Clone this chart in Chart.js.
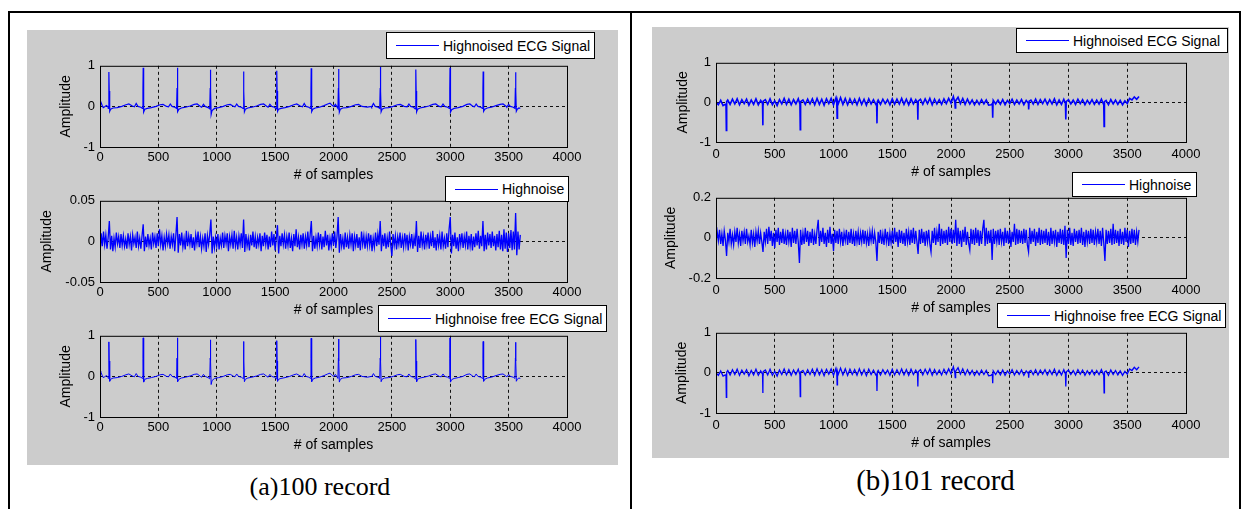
<!DOCTYPE html>
<html>
<head>
<meta charset="utf-8">
<script src="https://cdn.jsdelivr.net/npm/chart.js@4/dist/chart.umd.min.js"></script>
<style>
  body { margin: 0; width: 1244px; height: 509px; position: relative; overflow: hidden; background: #fff; font-family: "Liberation Sans", Arial, sans-serif; }
  .rule { position: absolute; background: #000; }
  .panel { position: absolute; background: #cccccc; }
  canvas { position: absolute; }
  .legend { position: absolute; box-sizing: border-box; background: #fff; border: 1px solid #000; display: flex; align-items: center; font-size: 14px; color: #000; white-space: nowrap; z-index: 2; }
  .legend i { display: inline-block; width: 43px; height: 1px; margin: 0 4px 0 9px; }
  .caption { position: absolute; font-family: "Liberation Serif", "Times New Roman", serif; color: #000; white-space: nowrap; }
</style>
</head>
<body>
<div class="rule" style="left:8px;top:11px;width:1233px;height:2px"></div>
<div class="rule" style="left:8px;top:11px;width:2px;height:498px"></div>
<div class="rule" style="left:630px;top:11px;width:2px;height:498px"></div>
<div class="rule" style="left:1239px;top:11px;width:2px;height:498px"></div>
<div class="panel" style="left:27px;top:30px;width:591px;height:435px"></div>
<div class="panel" style="left:652px;top:27px;width:577px;height:431px"></div>
<div class="caption" style="left:0;width:640px;text-align:center;top:474px;font-size:26px;line-height:26px">(a)100 record</div>
<div class="caption" style="left:632px;width:607px;text-align:center;top:466px;font-size:29px;line-height:29px">(b)101 record</div>
<script>
// axis ticks
const xTickValues = [0, 500, 1000, 1500, 2000, 2500, 3000, 3500, 4000];
const xTickLabels = ['0', '500', '1000', '1500', '2000', '2500', '3000', '3500', '4000'];
const ecgTickValues = [-1, 0, 1];
const ecgTickLabels = ['-1', '0', '1'];
const noise100TickValues = [-0.05, 0, 0.05];
const noise100TickLabels = ['-0.05', '0', '0.05'];
const noise101TickValues = [-0.2, 0, 0.2];
const noise101TickLabels = ['-0.2', '0', '0.2'];

// samples between successive values of the noise and ripple arrays
const noiseStep = 10;
const rippleStep = 20;

// record 100 ECG, [sample, amplitude]
const ecg100 = [
  [0, 0.12], [8, 0.1], [18, 0.03], [28, -0.03], [40, -0.01], [55, 0.02], [68, -0.01], [71, -0.05], [75, 0.45], [77, 0.85], [79, 0.38], [83, -0.12], [91, -0.07], [112, -0.04], [147, -0.03], [187, 0.0], [222, 0.04], [247, 0.06], [277, 0.01],
  [295, -0.01], [310, 0.07], [325, 0.0], [350, -0.02], [364, -0.05], [368, 0.45], [370, 0.95], [372, 0.38], [376, -0.14], [384, -0.07], [405, -0.05], [440, -0.03], [480, 0.0], [515, 0.04], [540, 0.05], [570, 0.0],
  [587, -0.01], [602, 0.06], [617, 0.0], [642, -0.02], [656, -0.05], [660, 0.45], [662, 0.95], [664, 0.38], [668, -0.13], [676, -0.07], [697, -0.04], [732, -0.02], [772, 0.01], [807, 0.05], [832, 0.06], [860, 0.0],
  [871, -0.02], [886, 0.05], [901, 0.0], [926, -0.03], [940, -0.06], [944, 0.45], [946, 0.9], [948, 0.38], [952, -0.2], [960, -0.1], [981, -0.05], [1016, -0.03], [1056, 0.0], [1091, 0.04], [1116, 0.05], [1145, 0.0],
  [1156, -0.01], [1171, 0.06], [1186, 0.0], [1211, -0.02], [1225, -0.05], [1229, 0.45], [1231, 0.86], [1233, 0.38], [1237, -0.13], [1245, -0.07], [1266, -0.04], [1301, -0.02], [1341, 0.01], [1376, 0.05], [1401, 0.06], [1430, 0.0],
  [1440, -0.02], [1455, 0.05], [1470, 0.0], [1495, -0.02], [1509, -0.06], [1513, 0.45], [1515, 0.88], [1517, 0.38], [1521, -0.12], [1529, -0.07], [1550, -0.05], [1585, -0.03], [1625, 0.0], [1660, 0.04], [1685, 0.06], [1715, 0.01],
  [1734, -0.01], [1749, 0.07], [1764, 0.0], [1789, -0.02], [1803, -0.05], [1807, 0.45], [1809, 0.94], [1811, 0.38], [1815, -0.13], [1823, -0.07], [1844, -0.04], [1879, -0.02], [1919, 0.02], [1950, 0.06], [1970, 0.08], [1990, 0.02],
  [2005, 0.0], [2016, 0.05], [2028, 0.0], [2038, -0.05], [2042, 0.45], [2044, 0.92], [2046, 0.38], [2050, -0.14], [2058, -0.07], [2079, -0.04], [2114, -0.03], [2154, 0.0], [2189, 0.04], [2214, 0.05], [2244, 0.0], [2290, -0.02], [2325, 0.0],
  [2327, -0.01], [2342, 0.07], [2357, 0.0], [2382, -0.02], [2396, -0.05], [2400, 0.45], [2402, 0.97], [2404, 0.38], [2408, -0.13], [2416, -0.07], [2437, -0.04], [2472, -0.03], [2512, 0.0], [2547, 0.04], [2572, 0.05], [2605, 0.0],
  [2631, -0.01], [2646, 0.06], [2661, 0.0], [2686, -0.02], [2700, -0.06], [2704, 0.45], [2706, 0.91], [2708, 0.38], [2712, -0.13], [2720, -0.07], [2741, -0.04], [2776, -0.02], [2816, 0.01], [2851, 0.05], [2876, 0.06], [2905, 0.0],
  [2923, -0.01], [2938, 0.06], [2953, 0.0], [2978, -0.02], [2992, -0.05], [2996, 0.45], [2998, 0.95], [3000, 0.38], [3004, -0.14], [3012, -0.08], [3033, -0.05], [3068, -0.03], [3108, 0.0], [3143, 0.05], [3168, 0.06], [3195, 0.0],
  [3207, -0.01], [3222, 0.06], [3237, 0.0], [3262, -0.02], [3276, -0.05], [3280, 0.45], [3282, 0.86], [3284, 0.38], [3288, -0.12], [3296, -0.07], [3317, -0.04], [3352, -0.02], [3392, 0.02], [3427, 0.05], [3452, 0.06], [3480, 0.0],
  [3485, -0.01], [3500, 0.05], [3515, 0.0], [3540, -0.02], [3554, -0.05], [3558, 0.45], [3560, 0.84], [3562, 0.38], [3566, -0.12], [3574, -0.07], [3588, -0.04], [3600, -0.05]
];

// record 100 high noise, one value per noiseStep samples
const noise100 = [
  -0.018, 0.01, -0.006, 0.012, -0.004, 0.008, -0.009, 0.005, 0.025, -0.01, 0.007, -0.012, 0.004, -0.007, 0.011, -0.003, 0.006, -0.008, 0.009, -0.005,
  0.007, -0.006, 0.003, -0.009, 0.01, -0.004, 0.006, -0.011, 0.008, -0.003, 0.005, -0.008, 0.012, -0.006, 0.004, -0.009, 0.007, 0.021, -0.012, 0.006,
  -0.007, 0.009, -0.005, 0.004, -0.01, 0.011, -0.003, 0.006, -0.008, 0.01, -0.006, 0.015, -0.004, 0.007, -0.011, 0.005, -0.006, 0.009, -0.003, 0.008,
  -0.009, 0.006, -0.004, 0.01, -0.012, 0.008, 0.03, -0.014, 0.009, -0.005, 0.011, -0.007, 0.004, -0.01, 0.013, -0.006, 0.007, -0.004, 0.009, -0.008,
  0.005, -0.011, 0.008, -0.003, 0.012, -0.007, 0.006, -0.009, 0.004, -0.006, 0.01, -0.013, 0.007, -0.004, 0.009, 0.027, -0.015, 0.006, -0.008, 0.005,
  -0.006, 0.009, -0.01, 0.004, -0.005, 0.011, -0.008, 0.007, -0.003, 0.01, -0.012, 0.006, -0.004, 0.008, -0.009, 0.013, -0.006, 0.005, -0.01, 0.007,
  -0.004, 0.01, -0.008, 0.027, -0.013, 0.009, -0.006, 0.004, -0.011, 0.008, -0.005, 0.012, -0.007, 0.006, -0.009, 0.005, -0.004, 0.01, -0.012, 0.007,
  -0.006, 0.011, -0.004, 0.008, -0.01, 0.006, -0.007, 0.012, -0.005, 0.009, -0.011, 0.004, 0.02, -0.015, 0.007, -0.006, 0.01, -0.004, 0.008, -0.009,
  0.006, -0.005, 0.011, -0.008, 0.004, -0.012, 0.009, -0.006, 0.015, -0.007, 0.005, -0.01, 0.008, -0.004, 0.01, -0.009, 0.006, -0.005, 0.012, -0.007,
  0.008, 0.025, -0.012, 0.007, -0.009, 0.005, -0.006, 0.011, -0.004, 0.009, -0.01, 0.006, -0.007, 0.013, -0.005, 0.008, -0.011, 0.004, -0.006, 0.01,
  -0.005, 0.012, -0.008, 0.006, 0.03, -0.014, 0.009, -0.006, 0.004, -0.01, 0.011, -0.007, 0.005, -0.009, 0.008, -0.004, 0.01, -0.012, 0.006, -0.005,
  0.009, -0.008, 0.005, -0.011, 0.012, -0.004, 0.007, -0.009, 0.006, -0.006, 0.01, -0.005, 0.008, -0.012, 0.004, -0.007, 0.011, -0.006, 0.009, -0.004,
  0.025, -0.012, 0.008, -0.006, 0.01, -0.009, 0.005, -0.007, 0.012, -0.004, -0.018, 0.009, -0.005, 0.007, -0.01, 0.006, -0.004, 0.011, -0.008, 0.005,
  -0.007, 0.01, -0.005, 0.008, -0.011, 0.006, -0.004, 0.009, -0.009, 0.005, -0.006, 0.025, -0.013, 0.007, -0.008, 0.012, -0.005, 0.006, -0.01, 0.008,
  -0.004, 0.011, -0.009, 0.006, -0.006, 0.013, -0.008, 0.005, -0.011, 0.009, -0.005, 0.007, -0.01, 0.012, -0.006, 0.004, -0.009, 0.01, -0.007, 0.015,
  0.03, -0.015, 0.008, -0.006, 0.011, -0.009, 0.005, -0.012, 0.009, -0.004, 0.01, -0.008, 0.006, -0.005, 0.012, -0.01, 0.007, -0.006, 0.009, -0.011,
  0.006, -0.007, 0.01, -0.005, 0.013, -0.009, 0.007, -0.006, 0.025, -0.012, 0.008, -0.01, 0.011, -0.005, 0.009, -0.008, 0.012, -0.006, 0.007, -0.011,
  0.009, -0.007, 0.013, -0.01, 0.008, -0.012, 0.015, -0.009, 0.011, -0.013, 0.01, -0.008, 0.014, -0.011, 0.012, -0.01, 0.035, -0.017, 0.012, -0.01,
  0.008
];

// record 101 ECG baseline ripple, one value per rippleStep samples
const ecg101Ripple = [
  0.0, -0.06, 0.05, -0.08, -0.05, 0.06, -0.05, 0.08, -0.04, 0.09, -0.06, 0.07, -0.03, 0.08, -0.07, 0.06, -0.05, 0.09, -0.06, 0.05,
  -0.05, 0.07, -0.05, 0.09, -0.06, 0.04, -0.08, 0.07, -0.04, 0.1, -0.05, 0.08, -0.06, 0.07, -0.04, 0.09, -0.06, 0.06, -0.05, 0.08,
  -0.04, 0.09, -0.06, 0.1, -0.05, 0.08, -0.07, 0.09, -0.03, 0.1, -0.06, 0.11, -0.04, 0.12, -0.05, 0.1, -0.06, 0.09, -0.04, 0.08,
  -0.06, 0.1, -0.05, 0.08, -0.07, 0.09, -0.04, 0.07, -0.05, 0.06, -0.05, 0.08, -0.03, 0.07, -0.06, 0.09, -0.05, 0.08, -0.04, 0.1,
  -0.05, 0.08, -0.06, 0.09, -0.04, 0.07, -0.05, 0.08, -0.05, 0.09, -0.03, 0.1, -0.06, 0.08, -0.04, 0.07, -0.05, 0.09, -0.03, 0.1,
  -0.02, 0.15, 0.04, 0.13, -0.03, 0.1, -0.05, 0.08, -0.04, 0.06, -0.06, 0.05, -0.05, 0.07, -0.04, 0.06, -0.07, -0.06, 0.05, -0.04,
  0.06, -0.05, 0.07, -0.06, 0.05, -0.03, 0.08, -0.05, 0.06, -0.04, 0.07, -0.06, 0.05, -0.08, 0.06, -0.04, 0.08, -0.05, 0.07, -0.03,
  0.08, -0.05, 0.07, -0.04, 0.09, -0.06, 0.06, -0.05, 0.08, -0.05, 0.07, -0.04, 0.06, -0.05, 0.08, -0.03, 0.07, -0.06, 0.05, -0.04,
  0.07, -0.05, 0.06, -0.04, 0.08, -0.06, 0.05, -0.06, 0.07, -0.04, 0.06, -0.05, 0.05, -0.06, 0.04, -0.03, 0.1, 0.06, 0.14, 0.08,
  0.15
];

// record 101 beats (downward), [sample, amplitude]
const ecg101NoisedBeats = [
  [85, -0.04], [88, -0.71], [91, 0.02], [396, -0.03], [399, -0.58], [402, 0.03], [714, -0.04], [717, -0.69], [720, 0.02],
  [1028, -0.02], [1031, -0.4], [1034, 0.03], [1367, -0.03], [1370, -0.53], [1373, 0.02], [1715, -0.02], [1718, -0.44], [1721, 0.03],
  [2033, 0.0], [2036, -0.14], [2039, 0.05], [2352, -0.03], [2355, -0.39], [2358, 0.02], [2659, -0.02], [2662, -0.18], [2665, 0.03],
  [2974, -0.03], [2977, -0.43], [2980, 0.02], [3300, -0.04], [3303, -0.61], [3306, 0.02]
];
const ecg101CleanBeats = [
  [85, -0.04], [88, -0.61], [91, 0.02], [396, -0.03], [399, -0.5], [402, 0.03], [714, -0.04], [717, -0.59], [720, 0.02],
  [1028, -0.02], [1031, -0.3], [1034, 0.03], [1367, -0.03], [1370, -0.45], [1373, 0.02], [1715, -0.02], [1718, -0.34], [1721, 0.03],
  [2033, 0.0], [2036, -0.12], [2039, 0.05], [2352, -0.03], [2355, -0.26], [2358, 0.02], [2659, -0.02], [2662, -0.12], [2665, 0.03],
  [2974, -0.03], [2977, -0.34], [2980, 0.02], [3300, -0.04], [3303, -0.5], [3306, 0.02]
];

// record 101 high noise, one value per noiseStep samples
const noise101 = [
  -0.02, 0.03, -0.015, 0.04, -0.03, 0.02, -0.04, 0.035, -0.01, -0.09, 0.025, -0.02, 0.045, -0.03, 0.015, -0.035, 0.03, -0.02, 0.05, -0.025,
  0.02, -0.04, 0.035, -0.015, 0.03, -0.03, 0.045, -0.02, 0.01, -0.035, 0.04, -0.025, 0.02, -0.045, 0.03, -0.015, 0.035, -0.03, 0.025, -0.02,
  -0.07, 0.03, -0.02, 0.045, -0.03, 0.055, -0.015, 0.035, -0.04, 0.025, -0.05, 0.04, -0.02, 0.05, -0.035, 0.03, -0.025, 0.045, -0.03, 0.02,
  -0.035, 0.04, -0.02, 0.03, -0.045, 0.05, -0.025, 0.035, -0.03, 0.045, -0.02, -0.125, 0.04, -0.035, 0.025, -0.03, 0.05, -0.02, 0.035, -0.04,
  0.03, -0.025, 0.045, -0.035, 0.02, -0.03, 0.04, 0.09, -0.04, 0.035, -0.02, 0.05, -0.03, 0.025, -0.045, 0.04, -0.025, 0.055, -0.03, 0.02,
  -0.065, 0.04, -0.025, 0.035, -0.03, 0.045, -0.02, 0.03, -0.04, 0.025, -0.015, 0.04, -0.035, 0.03, -0.025, 0.045, -0.03, 0.02, -0.04, 0.035,
  -0.02, 0.03, -0.035, 0.025, -0.02, 0.04, -0.03, 0.035, -0.025, 0.02, -0.04, 0.03, -0.015, 0.035, -0.03, 0.025, -0.02, -0.115, 0.03, -0.025,
  0.04, -0.03, 0.02, -0.035, 0.045, -0.02, 0.03, -0.04, 0.025, -0.025, 0.035, -0.03, 0.05, -0.02, 0.03, -0.045, 0.04, -0.025, 0.035, -0.03,
  0.025, -0.04, 0.045, -0.02, 0.03, -0.035, 0.04, -0.025, 0.05, -0.03, 0.035, -0.02, -0.08, 0.04, -0.03, 0.045, -0.025, 0.03, -0.04, 0.035,
  -0.02, 0.04, -0.03, -0.07, 0.035, -0.025, 0.05, -0.035, 0.03, -0.02, 0.07, -0.04, 0.045, -0.03, 0.035, -0.025, 0.04, -0.035, 0.055, -0.02,
  0.045, -0.03, 0.04, -0.025, 0.09, -0.04, 0.05, -0.03, 0.035, -0.045, 0.04, -0.02, 0.055, -0.035, 0.03, -0.025, -0.06, 0.045, -0.03, 0.04,
  -0.035, 0.05, -0.025, 0.04, -0.04, 0.035, -0.03, 0.045, 0.09, -0.04, 0.05, -0.03, 0.035, -0.025, 0.04, -0.11, 0.045, -0.03, 0.035, -0.02,
  0.04, -0.035, 0.045, -0.02, 0.03, -0.04, 0.05, -0.025, 0.035, -0.03, 0.04, -0.045, 0.03, -0.02, 0.07, -0.035, 0.045, -0.03, 0.04, -0.025,
  0.035, -0.03, 0.045, -0.025, 0.04, -0.035, -0.07, 0.05, -0.03, 0.035, -0.02, 0.045, -0.04, 0.03, -0.025, 0.05, -0.035, 0.04, -0.03, 0.035,
  -0.025, 0.045, -0.035, 0.03, -0.04, 0.05, -0.03, 0.035, -0.02, 0.04, -0.045, 0.03, -0.025, 0.045, -0.03, 0.04, -0.035, 0.06, -0.1, 0.04,
  -0.03, 0.05, -0.035, 0.025, -0.04, 0.045, -0.02, 0.035, -0.03, 0.04, -0.025, 0.05, -0.035, 0.03, -0.045, 0.04, -0.02, 0.035, -0.03, 0.045,
  -0.025, 0.04, -0.035, 0.03, -0.02, 0.045, -0.03, 0.035, -0.04, 0.05, -0.025, -0.115, 0.04, -0.03, 0.035, -0.025, 0.045, -0.035, 0.07, -0.03,
  0.04, -0.025, 0.035, -0.04, 0.045, -0.03, 0.03, -0.035, 0.05, -0.02, 0.04, -0.045, 0.035, -0.03, 0.045, -0.025, 0.04, -0.035, 0.03, -0.02,
  0.04
];

const blue = '#0000ff';
const tickFont = { family: '"Liberation Sans", Arial, sans-serif', size: 13 };
const titleFont = { family: '"Liberation Sans", Arial, sans-serif', size: 14 };

function pairsToPoints(pairs) {
  return pairs.map(p => ({ x: p[0], y: p[1] }));
}
function stepToPoints(values, step) {
  return values.map((v, i) => ({ x: i * step, y: v }));
}
function withBeats(values, step, beats) {
  return stepToPoints(values, step).concat(pairsToPoints(beats)).sort((a, b) => a.x - b.x);
}

// solid box round the plot area, like matlab's "box on"
const axesBox = {
  id: 'axesBox',
  afterDraw(chart) {
    const { ctx, chartArea: a } = chart;
    ctx.save();
    ctx.strokeStyle = '#000';
    ctx.lineWidth = 1;
    ctx.strokeRect(a.left + 0.5, a.top + 0.5, a.right - a.left, a.bottom - a.top);
    ctx.restore();
  }
};

function makePlot(p) {
  const canvas = document.createElement('canvas');
  canvas.width = p.yw + p.pw + 20;
  canvas.height = 12 + p.ph + p.xh;
  canvas.style.left = (p.px - p.yw) + 'px';
  canvas.style.top = (p.py - 12) + 'px';
  document.body.appendChild(canvas);

  const inner = (c, lo, hi) => (c.tick && c.tick.value > lo && c.tick.value < hi) ? '#111' : 'rgba(0,0,0,0)';

  const chart = new Chart(canvas.getContext('2d'), {
    type: 'line',
    data: {
      datasets: [{
        label: p.label,
        data: p.data,
        borderColor: blue,
        borderWidth: p.lw || 1,
        pointRadius: 0,
        tension: 0,
        fill: false
      }]
    },
    options: {
      responsive: false,
      animation: false,
      events: [],
      layout: { padding: { top: 12, right: 20, left: 0, bottom: 0 } },
      plugins: { legend: { display: false }, tooltip: { enabled: false } },
      scales: {
        x: {
          type: 'linear',
          min: 0,
          max: 4000,
          afterBuildTicks: s => { s.ticks = xTickValues.map(v => ({ value: v })); },
          afterFit: s => { s.height = p.xh; },
          ticks: { color: '#000', font: tickFont, padding: p.xpad, maxRotation: 0, autoSkip: false, callback: (v, i) => xTickLabels[i] },
          grid: { color: c => inner(c, 0, 4000), drawTicks: false },
          border: { display: false, dash: [3, 3] },
          title: { display: true, text: '# of samples', color: '#000', font: titleFont, padding: 0 }
        },
        y: {
          min: p.yTicks[0],
          max: p.yTicks[p.yTicks.length - 1],
          afterBuildTicks: s => { s.ticks = p.yTicks.map(v => ({ value: v })); },
          afterFit: s => { s.width = p.yw; },
          ticks: { color: '#000', font: tickFont, padding: 5, callback: (v, i) => p.yLabels[i] },
          grid: { color: c => inner(c, p.yTicks[0], p.yTicks[p.yTicks.length - 1]), drawTicks: false },
          border: { display: false, dash: [3, 3] },
          title: { display: true, text: 'Amplitude', color: '#000', font: titleFont, padding: 0 }
        }
      }
    },
    plugins: [axesBox]
  });

  // legend box drawn from the dataset
  const ds = chart.data.datasets[0];
  const lg = document.createElement('div');
  lg.className = 'legend';
  lg.style.left = p.legend[0] + 'px';
  lg.style.top = p.legend[1] + 'px';
  lg.style.width = p.legend[2] + 'px';
  lg.style.height = p.legend[3] + 'px';
  const sw = document.createElement('i');
  sw.style.background = ds.borderColor;
  lg.appendChild(sw);
  lg.appendChild(document.createTextNode(ds.label));
  document.body.appendChild(lg);
}

// (a) record 100
makePlot({ px: 100, py: 65, pw: 467, ph: 82, yw: 42, xh: 37, xpad: 3,
  yTicks: ecgTickValues, yLabels: ecgTickLabels, label: 'Highnoised ECG Signal',
  data: pairsToPoints(ecg100), legend: [386, 32, 209, 27], lw: 1.2 });
makePlot({ px: 100, py: 200, pw: 467, ph: 82, yw: 61, xh: 37, xpad: 3,
  yTicks: noise100TickValues, yLabels: noise100TickLabels, label: 'Highnoise',
  data: stepToPoints(noise100, noiseStep), legend: [445, 176, 124, 26], lw: 1.3 });
makePlot({ px: 100, py: 335, pw: 467, ph: 82, yw: 42, xh: 37, xpad: 3,
  yTicks: ecgTickValues, yLabels: ecgTickLabels, label: 'Highnoise free ECG Signal',
  data: pairsToPoints(ecg100), legend: [378, 305, 229, 27] });

// (b) record 101
makePlot({ px: 716, py: 62, pw: 470, ph: 80, yw: 41, xh: 39, xpad: 5,
  yTicks: ecgTickValues, yLabels: ecgTickLabels, label: 'Highnoised ECG Signal',
  data: withBeats(ecg101Ripple, rippleStep, ecg101NoisedBeats), legend: [1016, 28, 212, 25], lw: 1.6 });
makePlot({ px: 716, py: 197, pw: 470, ph: 81, yw: 53, xh: 39, xpad: 5,
  yTicks: noise101TickValues, yLabels: noise101TickLabels, label: 'Highnoise',
  data: stepToPoints(noise101, noiseStep), legend: [1072, 172, 125, 25], lw: 1.3 });
makePlot({ px: 716, py: 332, pw: 470, ph: 81, yw: 42, xh: 39, xpad: 5,
  yTicks: ecgTickValues, yLabels: ecgTickLabels, label: 'Highnoise free ECG Signal',
  data: withBeats(ecg101Ripple, rippleStep, ecg101CleanBeats), legend: [997, 303, 229, 25], lw: 1.3 });
</script>
</body>
</html>
